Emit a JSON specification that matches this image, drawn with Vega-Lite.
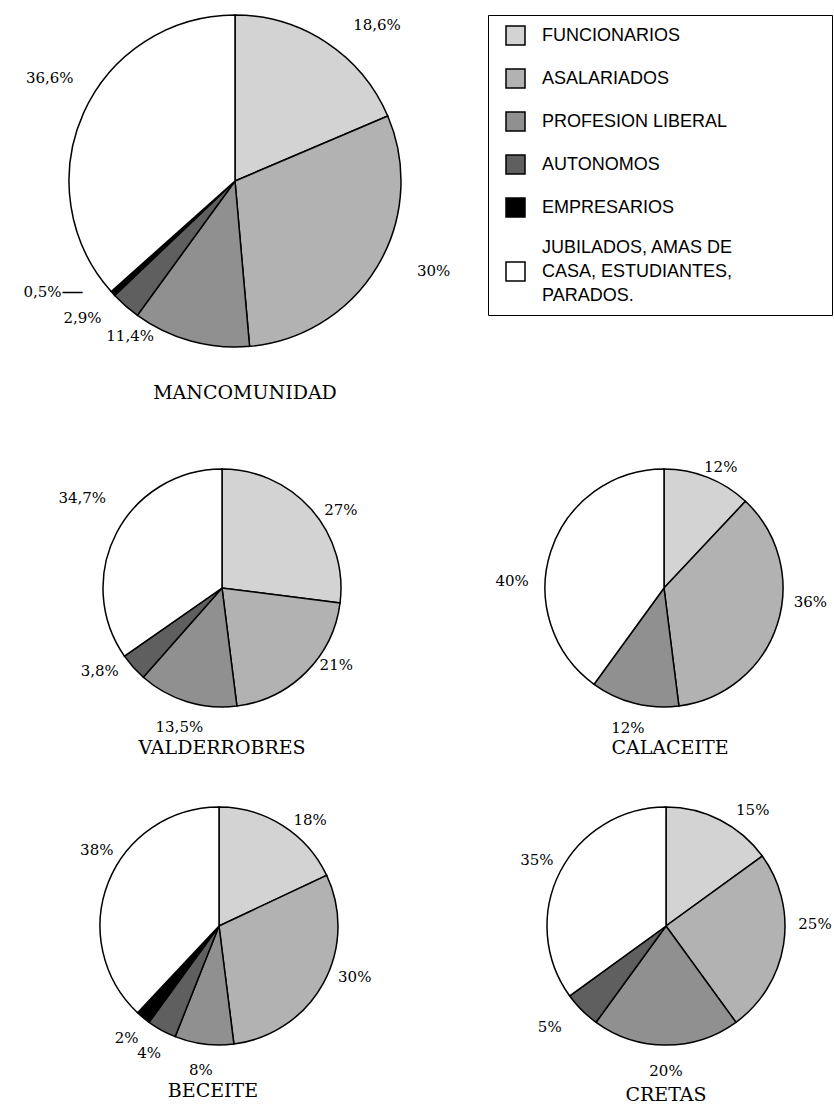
{
  "$schema": "https://vega.github.io/schema/vega-lite/v6.json",
  "padding": 0,
  "background": "white",
  "config": {
    "view": {"stroke": null},
    "locale": {"number": {"decimal": ",", "thousands": ".", "grouping": [3], "currency": ["", " €"]}},
    "text": {"font": "DejaVu Serif", "fontSize": 15, "color": "black"},
    "arc": {"stroke": "black", "strokeWidth": 1.5},
    "title": {"font": "DejaVu Serif", "fontSize": 19, "fontWeight": "normal", "color": "black", "orient": "bottom", "anchor": "middle", "frame": "group"},
    "legend": {"title": null, "orient": "none", "legendX": 488, "legendY": 15, "padding": 10, "strokeColor": "black", "fillColor": "white", "symbolType": "square", "symbolSize": 361, "symbolStrokeColor": "black", "symbolOffset": 7, "labelOffset": 16, "labelFont": "Liberation Sans", "labelFontSize": 18, "labelColor": "black", "labelLimit": 400, "rowPadding": 18}
  },
  "data": {"values": [
    {"region": "MANCOMUNIDAD", "cat": "FUNCIONARIOS", "k": 1, "share": 0.186},
    {"region": "MANCOMUNIDAD", "cat": "ASALARIADOS", "k": 2, "share": 0.30},
    {"region": "MANCOMUNIDAD", "cat": "PROFESION LIBERAL", "k": 3, "share": 0.114},
    {"region": "MANCOMUNIDAD", "cat": "AUTONOMOS", "k": 4, "share": 0.029},
    {"region": "MANCOMUNIDAD", "cat": "EMPRESARIOS", "k": 5, "share": 0.005},
    {"region": "MANCOMUNIDAD", "cat": "JUBILADOS, AMAS DE CASA, ESTUDIANTES, PARADOS.", "k": 6, "share": 0.366},
    {"region": "VALDERROBRES", "cat": "FUNCIONARIOS", "k": 1, "share": 0.27},
    {"region": "VALDERROBRES", "cat": "ASALARIADOS", "k": 2, "share": 0.21},
    {"region": "VALDERROBRES", "cat": "PROFESION LIBERAL", "k": 3, "share": 0.135},
    {"region": "VALDERROBRES", "cat": "AUTONOMOS", "k": 4, "share": 0.038},
    {"region": "VALDERROBRES", "cat": "JUBILADOS, AMAS DE CASA, ESTUDIANTES, PARADOS.", "k": 6, "share": 0.347},
    {"region": "CALACEITE", "cat": "FUNCIONARIOS", "k": 1, "share": 0.12},
    {"region": "CALACEITE", "cat": "ASALARIADOS", "k": 2, "share": 0.36},
    {"region": "CALACEITE", "cat": "PROFESION LIBERAL", "k": 3, "share": 0.12},
    {"region": "CALACEITE", "cat": "JUBILADOS, AMAS DE CASA, ESTUDIANTES, PARADOS.", "k": 6, "share": 0.40},
    {"region": "BECEITE", "cat": "FUNCIONARIOS", "k": 1, "share": 0.18},
    {"region": "BECEITE", "cat": "ASALARIADOS", "k": 2, "share": 0.30},
    {"region": "BECEITE", "cat": "PROFESION LIBERAL", "k": 3, "share": 0.08},
    {"region": "BECEITE", "cat": "AUTONOMOS", "k": 4, "share": 0.04},
    {"region": "BECEITE", "cat": "EMPRESARIOS", "k": 5, "share": 0.02},
    {"region": "BECEITE", "cat": "JUBILADOS, AMAS DE CASA, ESTUDIANTES, PARADOS.", "k": 6, "share": 0.38},
    {"region": "CRETAS", "cat": "FUNCIONARIOS", "k": 1, "share": 0.15},
    {"region": "CRETAS", "cat": "ASALARIADOS", "k": 2, "share": 0.25},
    {"region": "CRETAS", "cat": "PROFESION LIBERAL", "k": 3, "share": 0.20},
    {"region": "CRETAS", "cat": "AUTONOMOS", "k": 4, "share": 0.05},
    {"region": "CRETAS", "cat": "JUBILADOS, AMAS DE CASA, ESTUDIANTES, PARADOS.", "k": 6, "share": 0.35}
  ]},
  "columns": 2,
  "spacing": {"row": 114, "column": 30},
  "bounds": "flush",
  "concat": [
    {
      "width": 470,
      "height": 362,
      "title": {"text": "MANCOMUNIDAD", "offset": -10, "dx": 10},
      "transform": [{"filter": "datum.region == 'MANCOMUNIDAD'"}],
      "encoding": {
        "theta": {"field": "share", "type": "quantitative", "stack": true},
        "order": {"field": "k", "type": "quantitative"}
      },
      "layer": [
        {"mark": {"type": "arc", "outerRadius": 166},
         "encoding": {"color": {"field": "cat", "type": "nominal",
           "scale": {"domain": ["FUNCIONARIOS", "ASALARIADOS", "PROFESION LIBERAL", "AUTONOMOS", "EMPRESARIOS", "JUBILADOS, AMAS DE CASA, ESTUDIANTES, PARADOS."], "range": ["#d3d3d3", "#b2b2b2", "#909090", "#5f5f5f", "#000000", "#ffffff"]},
           "legend": {
             "labelExpr": "datum.label == 'JUBILADOS, AMAS DE CASA, ESTUDIANTES, PARADOS.' ? ['JUBILADOS, AMAS DE', 'CASA, ESTUDIANTES,', 'PARADOS.'] : datum.label",
             "encoding": {
               "entries": {"width": {"value": 324}, "noBound": {"value": false}},
               "labels": {"lineHeight": {"value": 24}, "dy": {"condition": {"test": "datum.value == 'JUBILADOS, AMAS DE CASA, ESTUDIANTES, PARADOS.'", "value": -24}, "value": 0}}}}}}},
        {"mark": {"type": "text", "radius": 211, "thetaOffset": 0.154},
         "encoding": {"detail": {"field": "cat"}, "text": {"condition": {"test": "datum.k == 1", "field": "share", "type": "quantitative", "format": ".1~%"}, "value": ""}}},
        {"mark": {"type": "text", "radius": 200, "thetaOffset": -0.113, "align": "left", "baseline": "top"},
         "encoding": {"detail": {"field": "cat"}, "text": {"condition": {"test": "datum.k == 2", "field": "share", "type": "quantitative", "format": ".1~%"}, "value": ""}}},
        {"mark": {"type": "text", "radius": 187, "thetaOffset": 0.325},
         "encoding": {"detail": {"field": "cat"}, "text": {"condition": {"test": "datum.k == 3", "field": "share", "type": "quantitative", "format": ".1~%"}, "value": ""}}},
        {"mark": {"type": "text", "radius": 205, "thetaOffset": 0.119},
         "encoding": {"detail": {"field": "cat"}, "text": {"condition": {"test": "datum.k == 4", "field": "share", "type": "quantitative", "format": ".1~%"}, "value": ""}}},
        {"mark": {"type": "text", "radius": 206, "thetaOffset": 0.175, "align": "right"},
         "encoding": {"detail": {"field": "cat"}, "text": {"condition": {"test": "datum.k == 5", "field": "share", "type": "quantitative", "format": ".1~%"}, "value": ""}}},
        {"mark": {"type": "text", "radius": 206, "thetaOffset": 0.175, "align": "left", "fontSize": 22},
         "encoding": {"detail": {"field": "cat"}, "text": {"condition": {"test": "datum.k == 5", "value": "—"}, "value": ""}}},
        {"mark": {"type": "text", "radius": 212, "thetaOffset": 0.087},
         "encoding": {"detail": {"field": "cat"}, "text": {"condition": {"test": "datum.k == 6", "field": "share", "type": "quantitative", "format": ".1~%"}, "value": ""}}}
      ]
    },
    {
      "width": 332,
      "height": 10,
      "transform": [{"filter": "false"}],
      "mark": {"type": "point", "opacity": 0}
    },
    {
      "width": 444,
      "height": 224,
      "title": {"text": "VALDERROBRES", "offset": -11},
      "transform": [{"filter": "datum.region == 'VALDERROBRES'"}],
      "encoding": {
        "theta": {"field": "share", "type": "quantitative", "stack": true},
        "order": {"field": "k", "type": "quantitative"}
      },
      "layer": [
        {"mark": {"type": "arc", "outerRadius": 119},
         "encoding": {"color": {"field": "cat", "type": "nominal",
           "scale": {"domain": ["FUNCIONARIOS", "ASALARIADOS", "PROFESION LIBERAL", "AUTONOMOS", "EMPRESARIOS", "JUBILADOS, AMAS DE CASA, ESTUDIANTES, PARADOS."], "range": ["#d3d3d3", "#b2b2b2", "#909090", "#5f5f5f", "#000000", "#ffffff"]},
           "legend": {
             "labelExpr": "datum.label == 'JUBILADOS, AMAS DE CASA, ESTUDIANTES, PARADOS.' ? ['JUBILADOS, AMAS DE', 'CASA, ESTUDIANTES,', 'PARADOS.'] : datum.label",
             "encoding": {
               "entries": {"width": {"value": 324}, "noBound": {"value": false}},
               "labels": {"lineHeight": {"value": 24}, "dy": {"condition": {"test": "datum.value == 'JUBILADOS, AMAS DE CASA, ESTUDIANTES, PARADOS.'", "value": -24}, "value": 0}}}}}}},
        {"mark": {"type": "text", "radius": 145},
         "encoding": {"detail": {"field": "cat"}, "text": {"condition": {"test": "datum.k == 3", "field": "share", "type": "quantitative", "format": ".1~%"}, "value": ""}}},
        {"mark": {"type": "text", "radius": 142, "thetaOffset": 0.143},
         "encoding": {"detail": {"field": "cat"}, "text": {"condition": {"test": "datum.k == 1", "field": "share", "type": "quantitative", "format": ".1~%"}, "value": ""}}},
        {"mark": {"type": "text", "radius": 138, "thetaOffset": -0.19},
         "encoding": {"detail": {"field": "cat"}, "text": {"condition": {"test": "datum.k == 2", "field": "share", "type": "quantitative", "format": ".1~%"}, "value": ""}}},
        {"mark": {"type": "text", "radius": 148, "thetaOffset": 0.13},
         "encoding": {"detail": {"field": "cat"}, "text": {"condition": {"test": "datum.k == 4", "field": "share", "type": "quantitative", "format": ".1~%"}, "value": ""}}},
        {"mark": {"type": "text", "radius": 166, "thetaOffset": 0.09},
         "encoding": {"detail": {"field": "cat"}, "text": {"condition": {"test": "datum.k == 6", "field": "share", "type": "quantitative", "format": ".1~%"}, "value": ""}}}
      ]
    },
    {
      "width": 328,
      "height": 224,
      "title": {"text": "CALACEITE", "offset": -9, "dx": 6},
      "transform": [{"filter": "datum.region == 'CALACEITE'"}],
      "encoding": {
        "theta": {"field": "share", "type": "quantitative", "stack": true},
        "order": {"field": "k", "type": "quantitative"}
      },
      "layer": [
        {"mark": {"type": "arc", "outerRadius": 119},
         "encoding": {"color": {"field": "cat", "type": "nominal",
           "scale": {"domain": ["FUNCIONARIOS", "ASALARIADOS", "PROFESION LIBERAL", "AUTONOMOS", "EMPRESARIOS", "JUBILADOS, AMAS DE CASA, ESTUDIANTES, PARADOS."], "range": ["#d3d3d3", "#b2b2b2", "#909090", "#5f5f5f", "#000000", "#ffffff"]},
           "legend": {
             "labelExpr": "datum.label == 'JUBILADOS, AMAS DE CASA, ESTUDIANTES, PARADOS.' ? ['JUBILADOS, AMAS DE', 'CASA, ESTUDIANTES,', 'PARADOS.'] : datum.label",
             "encoding": {
               "entries": {"width": {"value": 324}, "noBound": {"value": false}},
               "labels": {"lineHeight": {"value": 24}, "dy": {"condition": {"test": "datum.value == 'JUBILADOS, AMAS DE CASA, ESTUDIANTES, PARADOS.'", "value": -24}, "value": 0}}}}}}},
        {"mark": {"type": "text", "radius": 134, "thetaOffset": 0.06},
         "encoding": {"detail": {"field": "cat"}, "text": {"condition": {"test": "datum.k == 1", "field": "share", "type": "quantitative", "format": ".1~%"}, "value": ""}}},
        {"mark": {"type": "text", "radius": 145},
         "encoding": {"detail": {"field": "cat"}, "text": {"condition": {"test": "datum.k == 3", "field": "share", "type": "quantitative", "format": ".1~%"}, "value": ""}}},
        {"mark": {"type": "text", "radius": 147, "thetaOffset": -0.22},
         "encoding": {"detail": {"field": "cat"}, "text": {"condition": {"test": "datum.k == 2", "field": "share", "type": "quantitative", "format": ".1~%"}, "value": ""}}},
        {"mark": {"type": "text", "radius": 152, "thetaOffset": -0.27},
         "encoding": {"detail": {"field": "cat"}, "text": {"condition": {"test": "datum.k == 6", "field": "share", "type": "quantitative", "format": ".1~%"}, "value": ""}}}
      ]
    },
    {
      "width": 438,
      "height": 224,
      "title": {"text": "BECEITE", "offset": 3, "dx": -6},
      "transform": [{"filter": "datum.region == 'BECEITE'"}],
      "encoding": {
        "theta": {"field": "share", "type": "quantitative", "stack": true},
        "order": {"field": "k", "type": "quantitative"}
      },
      "layer": [
        {"mark": {"type": "arc", "outerRadius": 119},
         "encoding": {"color": {"field": "cat", "type": "nominal",
           "scale": {"domain": ["FUNCIONARIOS", "ASALARIADOS", "PROFESION LIBERAL", "AUTONOMOS", "EMPRESARIOS", "JUBILADOS, AMAS DE CASA, ESTUDIANTES, PARADOS."], "range": ["#d3d3d3", "#b2b2b2", "#909090", "#5f5f5f", "#000000", "#ffffff"]},
           "legend": {
             "labelExpr": "datum.label == 'JUBILADOS, AMAS DE CASA, ESTUDIANTES, PARADOS.' ? ['JUBILADOS, AMAS DE', 'CASA, ESTUDIANTES,', 'PARADOS.'] : datum.label",
             "encoding": {
               "entries": {"width": {"value": 324}, "noBound": {"value": false}},
               "labels": {"lineHeight": {"value": 24}, "dy": {"condition": {"test": "datum.value == 'JUBILADOS, AMAS DE CASA, ESTUDIANTES, PARADOS.'", "value": -24}, "value": 0}}}}}}},
        {"mark": {"type": "text", "radius": 145},
         "encoding": {"detail": {"field": "cat"}, "text": {"condition": {"test": "datum.k >= 3 && datum.k <= 5", "field": "share", "type": "quantitative", "format": ".1~%"}, "value": ""}}},
        {"mark": {"type": "text", "radius": 140, "thetaOffset": 0.143},
         "encoding": {"detail": {"field": "cat"}, "text": {"condition": {"test": "datum.k == 1", "field": "share", "type": "quantitative", "format": ".1~%"}, "value": ""}}},
        {"mark": {"type": "text", "radius": 145, "thetaOffset": -0.143},
         "encoding": {"detail": {"field": "cat"}, "text": {"condition": {"test": "datum.k == 2", "field": "share", "type": "quantitative", "format": ".1~%"}, "value": ""}}},
        {"mark": {"type": "text", "radius": 144, "thetaOffset": 0.18},
         "encoding": {"detail": {"field": "cat"}, "text": {"condition": {"test": "datum.k == 6", "field": "share", "type": "quantitative", "format": ".1~%"}, "value": ""}}}
      ]
    },
    {
      "width": 332,
      "height": 224,
      "title": {"text": "CRETAS", "offset": -2},
      "transform": [{"filter": "datum.region == 'CRETAS'"}],
      "encoding": {
        "theta": {"field": "share", "type": "quantitative", "stack": true},
        "order": {"field": "k", "type": "quantitative"}
      },
      "layer": [
        {"mark": {"type": "arc", "outerRadius": 119},
         "encoding": {"color": {"field": "cat", "type": "nominal",
           "scale": {"domain": ["FUNCIONARIOS", "ASALARIADOS", "PROFESION LIBERAL", "AUTONOMOS", "EMPRESARIOS", "JUBILADOS, AMAS DE CASA, ESTUDIANTES, PARADOS."], "range": ["#d3d3d3", "#b2b2b2", "#909090", "#5f5f5f", "#000000", "#ffffff"]},
           "legend": {
             "labelExpr": "datum.label == 'JUBILADOS, AMAS DE CASA, ESTUDIANTES, PARADOS.' ? ['JUBILADOS, AMAS DE', 'CASA, ESTUDIANTES,', 'PARADOS.'] : datum.label",
             "encoding": {
               "entries": {"width": {"value": 324}, "noBound": {"value": false}},
               "labels": {"lineHeight": {"value": 24}, "dy": {"condition": {"test": "datum.value == 'JUBILADOS, AMAS DE CASA, ESTUDIANTES, PARADOS.'", "value": -24}, "value": 0}}}}}}},
        {"mark": {"type": "text", "radius": 145},
         "encoding": {"detail": {"field": "cat"}, "text": {"condition": {"test": "datum.k == 3 || datum.k == 6", "field": "share", "type": "quantitative", "format": ".1~%"}, "value": ""}}},
        {"mark": {"type": "text", "radius": 145, "thetaOffset": 0.17},
         "encoding": {"detail": {"field": "cat"}, "text": {"condition": {"test": "datum.k == 1", "field": "share", "type": "quantitative", "format": ".1~%"}, "value": ""}}},
        {"mark": {"type": "text", "radius": 149, "thetaOffset": -0.17},
         "encoding": {"detail": {"field": "cat"}, "text": {"condition": {"test": "datum.k == 2", "field": "share", "type": "quantitative", "format": ".1~%"}, "value": ""}}},
        {"mark": {"type": "text", "radius": 154, "thetaOffset": 0.07},
         "encoding": {"detail": {"field": "cat"}, "text": {"condition": {"test": "datum.k == 4", "field": "share", "type": "quantitative", "format": ".1~%"}, "value": ""}}}
      ]
    }
  ]
}
